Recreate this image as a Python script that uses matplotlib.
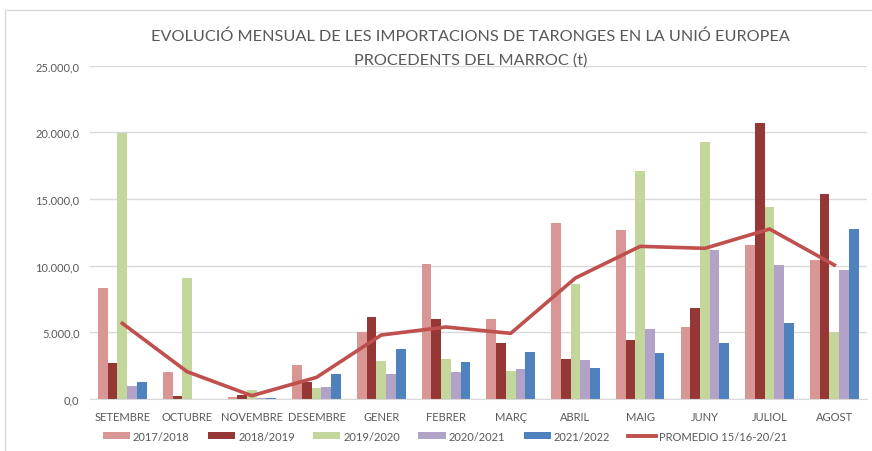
import matplotlib
matplotlib.use("Agg")
import matplotlib.pyplot as plt
from matplotlib.ticker import FuncFormatter
from matplotlib.lines import Line2D
import numpy as np

months = ["SETEMBRE", "OCTUBRE", "NOVEMBRE", "DESEMBRE", "GENER", "FEBRER",
          "MARÇ", "ABRIL", "MAIG", "JUNY", "JULIOL", "AGOST"]

s1718 = [8350, 2000, 125, 2550, 5000, 10125, 6025, 13225, 12675, 5425, 11525, 10400]
s1819 = [2700, 200, 300, 1250, 6125, 6025, 4175, 3000, 4425, 6825, 20675, 15350]
s1920 = [19925, 9100, 700, 800, 2875, 3025, 2100, 8650, 17100, 19275, 14425, 5000]
s2021 = [1000, 0, 75, 900, 1900, 2050, 2250, 2925, 5225, 11150, 10025, 9675]
s2122 = [1300, 0, 75, 1900, 3725, 2750, 3500, 2350, 3450, 4175, 5725, 12725]
promedio = [5675, 2050, 250, 1625, 4800, 5400, 4925, 9075, 11450, 11300, 12750, 10050]

series_labels = ["2017/2018", "2018/2019", "2019/2020", "2020/2021", "2021/2022"]
series_colors = ["#D99694", "#953735", "#C3D69B", "#B3A2C7", "#4F81BD"]
line_label = "PROMEDIO 15/16-20/21"
line_color = "#C0504D"

plt.rcParams["font.family"] = ["Lato", "DejaVu Sans"]

fig = plt.figure(figsize=(8.72, 4.52), dpi=100)
# light frame like the excel chart area
fig.patches.append(plt.Rectangle((0.006, -0.1), 1.2, 1.075, transform=fig.transFigure,
                                 fill=False, edgecolor="#D9D9D9", linewidth=1))
ax = fig.add_axes([0.1032, 0.115, 0.8907, 0.7375])

x = np.arange(len(months))
w = 0.15
all_series = [s1718, s1819, s1920, s2021, s2122]
for i, (vals, lab, col) in enumerate(zip(all_series, series_labels, series_colors)):
    ax.bar(x + (i - 2) * w, vals, width=w, color=col, label=lab, zorder=2)

ax.plot(x, promedio, color=line_color, linewidth=2.6, zorder=3, label=line_label)

ax.set_xlim(-0.5, len(months) - 0.5)
ax.set_ylim(0, 25000)
ax.set_yticks(np.arange(0, 25001, 5000))
ax.yaxis.set_major_formatter(FuncFormatter(lambda v, p: f"{v:,.1f}".replace(",", "X").replace(".", ",").replace("X", ".")))
ax.set_xticks(x)
ax.set_xticklabels(months)
ax.tick_params(axis="both", length=0, labelsize=8, colors="#595959")
ax.tick_params(axis="x", pad=8.5)
ax.tick_params(axis="y", pad=7.5)
ax.grid(axis="y", color="#D9D9D9", linewidth=1, zorder=0)
for side in ["top", "right", "left"]:
    ax.spines[side].set_visible(False)
ax.spines["bottom"].set_color("#D9D9D9")

fig.text(0.54, 0.918, "EVOLUCIÓ MENSUAL DE LES IMPORTACIONS DE TARONGES EN LA UNIÓ EUROPEA",
         ha="center", va="center", fontsize=11.7, color="#595959")
fig.text(0.54, 0.866, "PROCEDENTS DEL MARROC (t)",
         ha="center", va="center", fontsize=11.7, color="#595959")

handles, labels = ax.get_legend_handles_labels()
order = [1, 2, 3, 4, 5, 0]
handles = [handles[k] for k in order]
labels = [labels[k] for k in order]
handles[-1] = Line2D([0], [0], color=line_color, linewidth=2.8)
fig.legend(handles, labels, loc="center", bbox_to_anchor=(0.51, 0.033), ncol=6,
           frameon=False, fontsize=8, labelcolor="#595959", handlelength=2.45,
           handleheight=0.55, columnspacing=1.65, handletextpad=0.27)

fig.savefig("out.png", dpi=100)
